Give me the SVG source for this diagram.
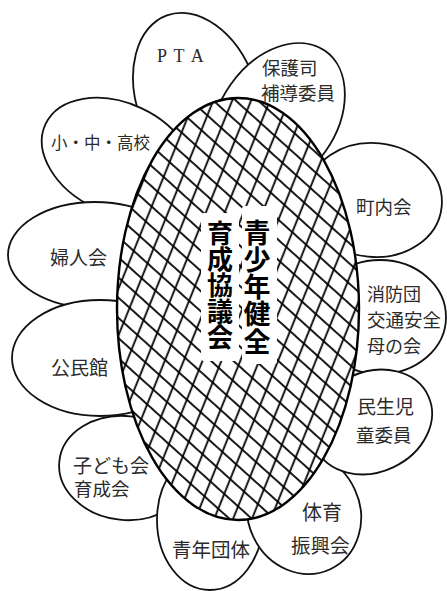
<svg xmlns="http://www.w3.org/2000/svg" width="447" height="591" viewBox="0 0 447 591">
<style>
.petal{fill:#fff;stroke:#111;stroke-width:1.8}
.lbl{font-family:"Noto Sans CJK JP","Noto Sans CJK SC",sans-serif;font-size:18.5px;fill:#2b2b2b;dominant-baseline:central}
.core{font-family:"Noto Sans CJK JP","Noto Sans CJK SC",sans-serif;font-size:26px;font-weight:700;fill:#000;writing-mode:vertical-rl}
.hl{stroke:#000;stroke-width:1.8}
</style>
<defs>
<pattern id="h1" width="17.5" height="17.5" patternUnits="userSpaceOnUse" patternTransform="rotate(22)"><line class="hl" x1="8" y1="0" x2="8" y2="17.5"/></pattern>
<pattern id="h2" width="15" height="15" patternUnits="userSpaceOnUse" patternTransform="rotate(42)"><line class="hl" x1="0" y1="7" x2="15" y2="7"/></pattern>
</defs>
<rect width="447" height="591" fill="#fff"/>
<g id="petals">
<g id="node-pta"><ellipse class="petal" cx="197" cy="98" rx="60" ry="88" transform="rotate(-20 197 98)"/><text x="157" y="62" style="font-family:'Liberation Serif',serif;font-size:18px;letter-spacing:1.5px;fill:#2b2b2b">P T A</text></g>
<g id="node-kodomokai"><ellipse class="petal" cx="125" cy="468" rx="66" ry="52" transform="rotate(6 125 468)"/><text class="lbl" x="73" y="464" style="font-size:19px">子ども会</text><text class="lbl" x="74" y="488">育成会</text></g>
<g id="node-shobodan"><ellipse class="petal" cx="380" cy="317" rx="66" ry="57"/><text class="lbl" x="367" y="293" style="font-size:18px">消防団</text><text class="lbl" x="367" y="319" style="font-size:18.5px">交通安全</text><text class="lbl" x="367" y="345" style="font-size:18px">母の会</text></g>
<g id="node-chonaikai"><ellipse class="petal" cx="374" cy="200" rx="68" ry="57" transform="rotate(6 374 200)"/><text class="lbl" x="356" y="206">町内会</text></g>
<g id="node-school"><ellipse class="petal" cx="118" cy="158" rx="80" ry="55" transform="rotate(25 118 158)"/><text class="lbl" x="51" y="142" style="font-size:16.5px">小・中・高校</text></g>
<g id="node-seinendantai"><ellipse class="petal" cx="210" cy="520" rx="53" ry="70"/><text class="lbl" x="172" y="548" style="font-size:19.5px">青年団体</text></g>
<g id="node-fujinkai"><ellipse class="petal" cx="95" cy="255" rx="87" ry="53"/><text class="lbl" x="50" y="256" style="font-size:19px">婦人会</text></g>
<g id="node-taiiku"><ellipse class="petal" cx="304" cy="513" rx="56" ry="62" transform="rotate(-25 304 513)"/><text class="lbl" x="302" y="511" style="font-size:20px">体育</text><text class="lbl" x="291" y="544" style="font-size:19.5px">振興会</text></g>
<g id="node-kominkan"><ellipse class="petal" cx="100" cy="358" rx="88" ry="58"/><text class="lbl" x="51" y="366" style="font-size:19px">公民館</text></g>
<g id="node-minsei"><ellipse class="petal" cx="372" cy="422" rx="62" ry="50" transform="rotate(-25 372 422)"/><text class="lbl" x="357" y="405" style="font-size:19px">民生児</text><text class="lbl" x="356" y="434">童委員</text></g>
<g id="node-hogoshi"><ellipse class="petal" cx="278" cy="118" rx="58" ry="82" transform="rotate(35 278 118)"/><text class="lbl" x="262" y="67">保護司</text><text class="lbl" x="261" y="92">補導委員</text></g>
</g>
<g id="node-center">
<ellipse cx="238" cy="309" rx="121" ry="211" fill="#fff"/>
<ellipse cx="238" cy="309" rx="121" ry="211" fill="url(#h1)"/>
<ellipse cx="238" cy="309" rx="121" ry="211" fill="url(#h2)"/>
<rect x="201" y="213" width="38" height="148" rx="3" fill="#fff"/>
<rect x="242" y="206" width="35" height="158" rx="3" fill="#fff"/>
<ellipse cx="238" cy="309" rx="121" ry="211" fill="none" stroke="#000" stroke-width="2.4"/>
<text class="core" x="257" y="219" style="font-size:27px;letter-spacing:0.2px">青少年健全</text>
<text class="core" x="220" y="220">育成協議会</text>
</g>
</svg>
